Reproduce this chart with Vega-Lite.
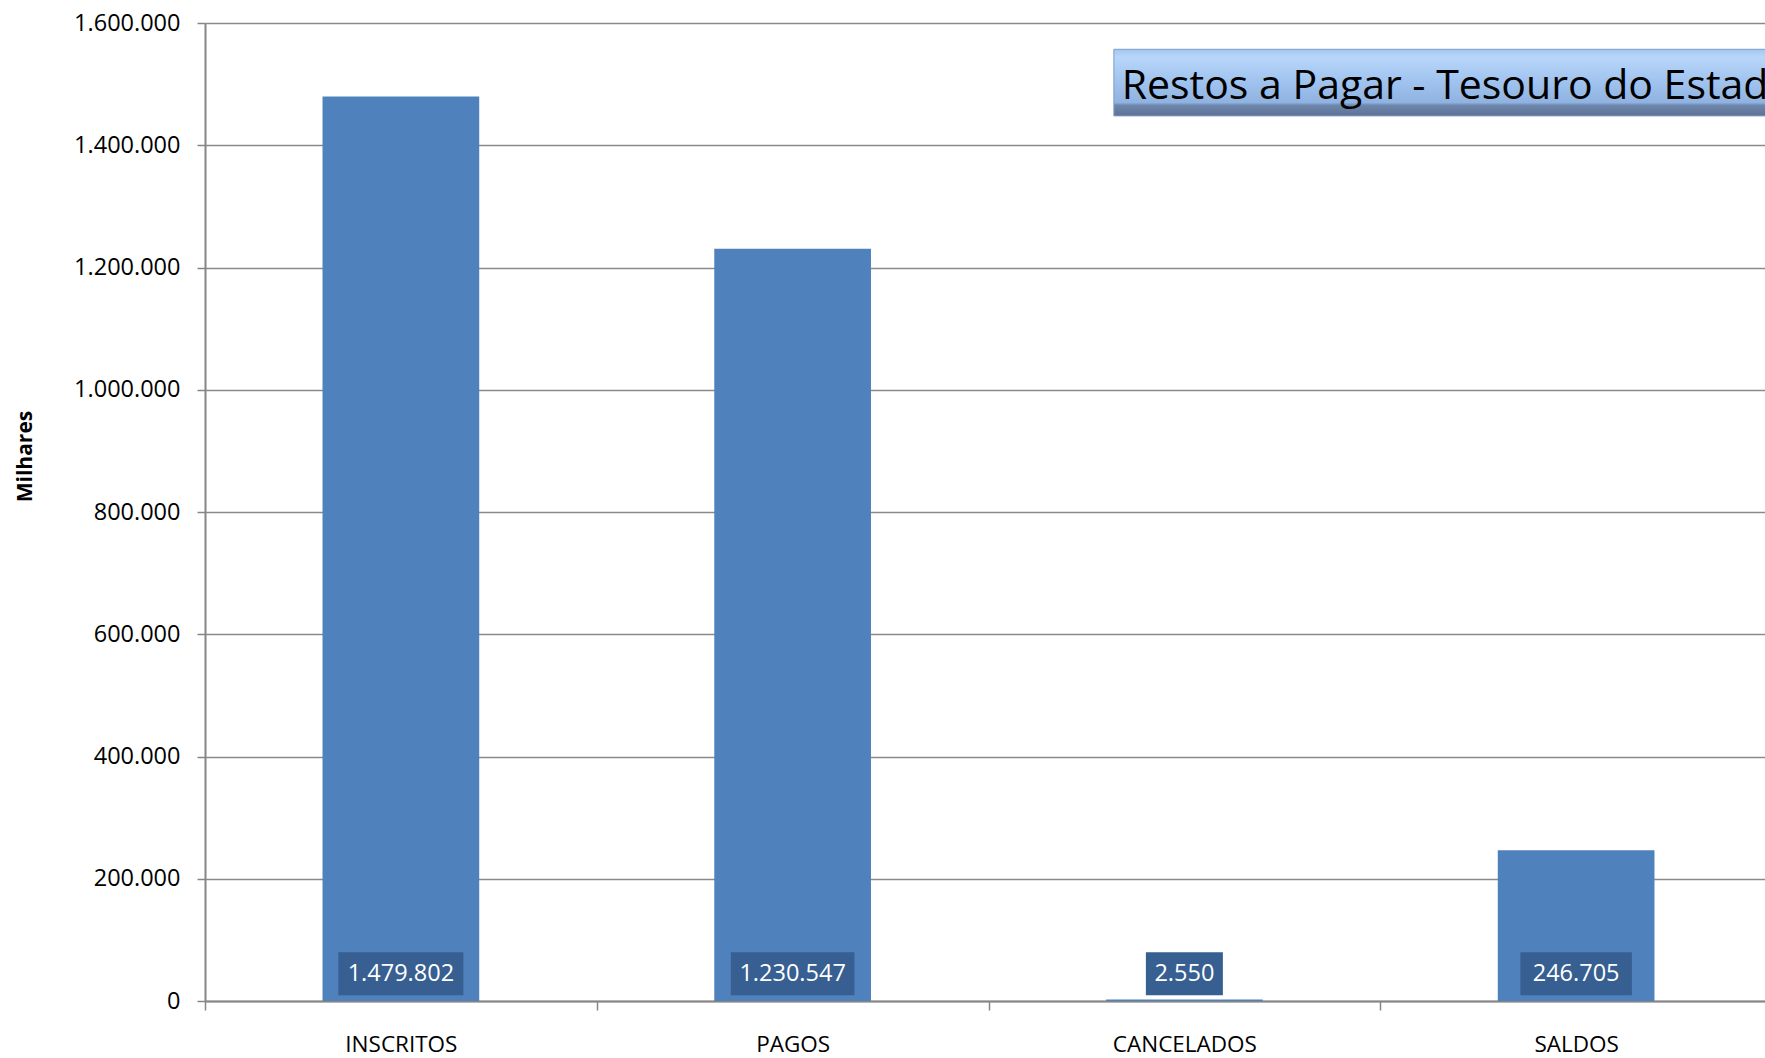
{
  "$schema": "https://vega.github.io/schema/vega-lite/v6.json",
  "autosize": {"type": "none"},
  "padding": {"left": 205, "top": 23, "right": -7, "bottom": 57},
  "width": 1567,
  "height": 978,
  "background": "white",
  "config": {
    "locale": {"number": {"decimal": ",", "thousands": ".", "grouping": [3], "currency": ["R$", ""]}},
    "view": {"stroke": null},
    "font": "Open Sans"
  },
  "data": {
    "values": [
      {"categoria": "INSCRITOS", "valor": 1479802},
      {"categoria": "PAGOS", "valor": 1230547},
      {"categoria": "CANCELADOS", "valor": 2550},
      {"categoria": "SALDOS", "valor": 246705}
    ]
  },
  "encoding": {
    "x": {
      "field": "categoria",
      "type": "nominal",
      "sort": null,
      "scale": {"paddingInner": 0, "paddingOuter": 0},
      "axis": {
        "title": null,
        "labelAngle": 0,
        "labelFont": "Open Sans",
        "labelFontSize": 22.5,
        "labelColor": "#000000",
        "labelPadding": 23,
        "tickBand": "extent",
        "tickSize": 9,
        "tickColor": "#868686",
        "tickWidth": 1.5,
        "domainColor": "#868686",
        "domainWidth": 2,
        "grid": false
      }
    }
  },
  "layer": [
    {
      "mark": {"type": "bar", "color": "#4f81bd", "width": {"band": 0.4}},
      "encoding": {
        "y": {
          "field": "valor",
          "type": "quantitative",
          "scale": {"domain": [0, 1600000], "nice": false},
          "axis": {
            "title": "Milhares",
            "titleFont": "Open Sans",
            "titleFontSize": 21,
            "titleFontWeight": "bold",
            "titleColor": "#000000",
            "titleX": -180,
            "titleY": 433,
            "titleAlign": "center",
            "titleBaseline": "middle",
            "values": [0, 200000, 400000, 600000, 800000, 1000000, 1200000, 1400000, 1600000],
            "format": ",.0f",
            "labelFont": "Open Sans",
            "labelFontSize": 23.5,
            "labelColor": "#000000",
            "labelPadding": 17,
            "tickSize": 8,
            "tickColor": "#868686",
            "tickWidth": 1.5,
            "domainColor": "#868686",
            "domainWidth": 2,
            "grid": true,
            "gridColor": "#8a8a8a",
            "gridWidth": 1.5
          }
        }
      }
    },
    {
      "mark": {"type": "bar", "color": "#375f92"},
      "encoding": {
        "y": {"datum": 9300, "type": "quantitative"},
        "y2": {"datum": 79700},
        "size": {
          "field": "valor",
          "type": "quantitative",
          "scale": {"type": "log", "domain": [2550, 1479802], "range": [77, 125]},
          "legend": null
        }
      }
    },
    {
      "mark": {"type": "text", "color": "#ffffff", "fontSize": 23.5, "font": "Open Sans", "baseline": "middle", "align": "center"},
      "encoding": {
        "y": {"datum": 44500, "type": "quantitative"},
        "text": {"field": "valor", "type": "quantitative", "format": ",.0f"}
      }
    },
    {
      "data": {"values": [{"titulo": "Restos a Pagar - Tesouro do Estado"}]},
      "mark": {
        "type": "rect",
        "stroke": "#7f9cc6",
        "strokeWidth": 1,
        "color": {
          "gradient": "linear",
          "x1": 0, "y1": 0, "x2": 0, "y2": 1,
          "stops": [
            {"offset": 0, "color": "#a4c6f2"},
            {"offset": 0.12, "color": "#b8d6fa"},
            {"offset": 0.5, "color": "#9fc2ee"},
            {"offset": 0.8, "color": "#90b2e0"},
            {"offset": 0.84, "color": "#6e87ad"},
            {"offset": 1, "color": "#5d7194"}
          ]
        }
      },
      "encoding": {
        "x": {"datum": "CANCELADOS", "bandPosition": 0.32},
        "x2": {"datum": "SALDOS", "bandPosition": 1},
        "y": {"datum": 1557000, "type": "quantitative"},
        "y2": {"datum": 1448000}
      }
    },
    {
      "data": {"values": [{"titulo": "Restos a Pagar - Tesouro do Estado"}]},
      "mark": {"type": "text", "color": "#000000", "fontSize": 41, "font": "Open Sans", "align": "left", "baseline": "middle"},
      "encoding": {
        "x": {"datum": "CANCELADOS", "bandPosition": 0.34},
        "y": {"datum": 1495000, "type": "quantitative"},
        "text": {"field": "titulo"}
      }
    }
  ]
}
